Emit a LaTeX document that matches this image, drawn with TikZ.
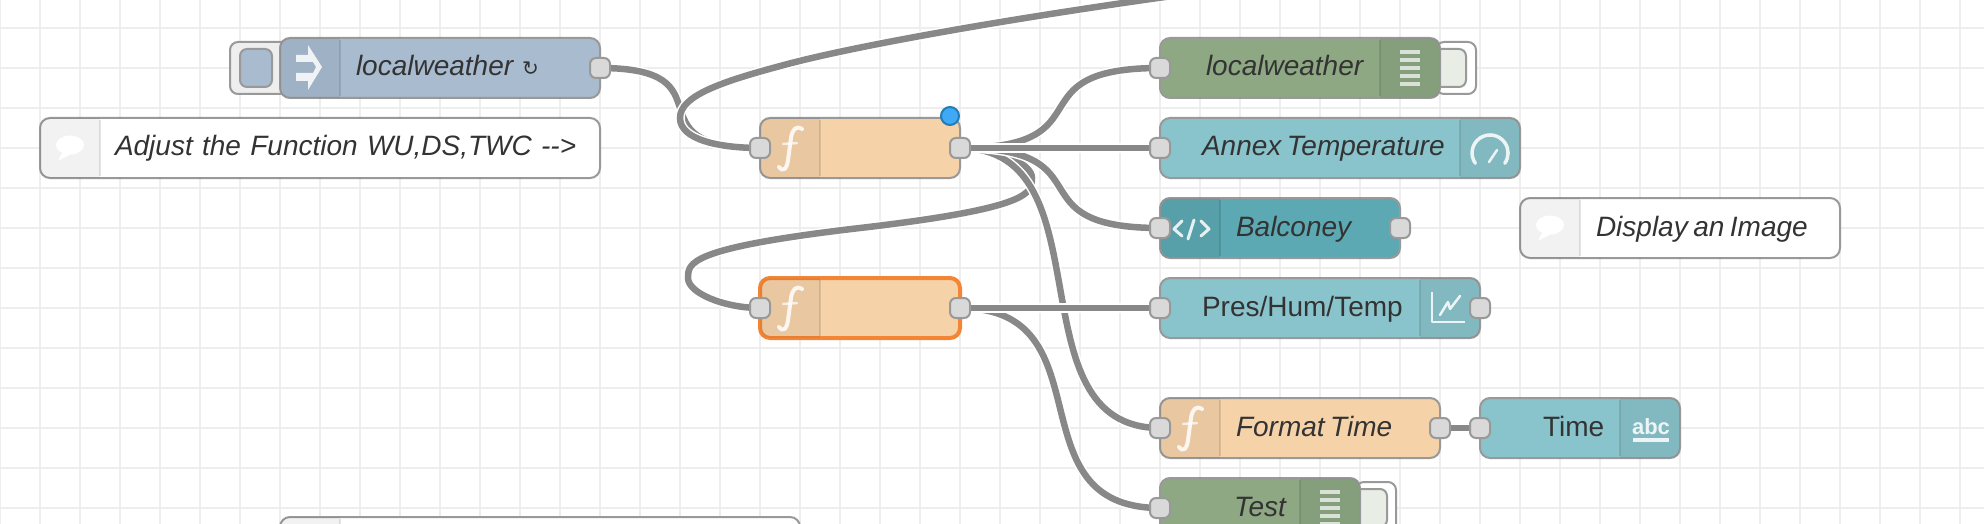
\documentclass[tikz,border=0pt]{standalone}
\usepackage{fontspec}
\setmainfont{Liberation Sans}
\newfontfamily\symfont{DejaVu Sans}
\usepackage{xcolor}
\usetikzlibrary{positioning}
\definecolor{FlowGrid}{HTML}{EEEEEE}
\definecolor{FlowWire}{HTML}{888888}
\definecolor{FlowEdge}{HTML}{999999}
\definecolor{FlowText}{HTML}{333333}
\definecolor{FlowPort}{HTML}{D9D9D9}
\definecolor{FlowInject}{HTML}{A8BBCF}
\definecolor{FlowFunc}{HTML}{F6D2A9}
\definecolor{FlowDebug}{HTML}{8DA883}
\definecolor{FlowDash}{HTML}{89C3CB}
\definecolor{FlowTemplate}{HTML}{5CA9B3}
\definecolor{FlowPick}{HTML}{F28636}
\definecolor{FlowDot}{HTML}{3FA9F5}
\definecolor{FlowDotEdge}{HTML}{1F7DB8}
\pgfdeclarelayer{canvas}
\pgfdeclarelayer{wires}
\pgfsetlayers{canvas,wires,main}
\newcommand{\flowfont}{\fontsize{28}{32}\selectfont}
\newcommand{\lefttab}[1]{\begin{scope}\clip[rounded corners=10pt] (#1.north west) rectangle (#1.south east);
 \fill[black,opacity=.05] (#1.north west) rectangle ([xshift=60pt]#1.south west);
 \end{scope}
 \draw[tabrule] ([xshift=60pt,yshift=-2pt]#1.north west) -- ([xshift=60pt,yshift=2pt]#1.south west);}
\newcommand{\righttab}[1]{\begin{scope}\clip[rounded corners=10pt] (#1.north west) rectangle (#1.south east);
 \fill[black,opacity=.05] ([xshift=-60pt]#1.north east) rectangle (#1.south east);
 \end{scope}
 \draw[tabrule] ([xshift=-60pt,yshift=-2pt]#1.north east) -- ([xshift=-60pt,yshift=2pt]#1.south east);}
\newcommand{\funcicon}[1]{\begin{scope}[shift={(#1.west)}]
 \draw[iconline,line width=4pt] (42,-19) .. controls (36,-23) and (32,-18) .. (31,-10) -- (28,12) .. controls (27,22) and (22,24) .. (19,19);
 \draw[iconline,line width=2.5pt,opacity=.7] (23,-4) -- (37,-5);
 \end{scope}}
\newcommand{\noteicon}[1]{\begin{scope}[shift={(#1.west)}]
 \fill[white] (30,-3) ellipse (14 and 9.5);
 \fill[white] (23,3) -- (18,13) -- (33,5) -- cycle;
 \end{scope}}
\newcommand{\debugicon}[1]{\begin{scope}[shift={(#1.east)}]
 \foreach \by in {-16,-8,0,8,16}
  \draw[iconline,line cap=butt,line width=4pt,opacity=.7] (-40,\by) -- (-20,\by);
 \end{scope}}

\begin{document}
\begin{tikzpicture}[x=1pt,y=-1pt,
 flowbox/.style 2 args={draw=FlowEdge,line width=2pt,rounded corners=10pt,inner sep=0pt,outer sep=0pt,minimum height=60pt,minimum width=#1pt,text width=#1pt,text height=23pt,text depth=7pt,align=flush left,text=FlowText,font=\flowfont\itshape,execute at begin node={\spaceskip=5.5pt\relax\hspace*{#2pt}}},
 plainfont/.style={font=\flowfont},
 port/.style={draw=FlowEdge,line width=2pt,fill=FlowPort,rounded corners=6pt,inner sep=0pt,outer sep=0pt,minimum size=20pt},
 buttonback/.style={draw=FlowEdge,line width=2pt,rounded corners=8pt,inner sep=0pt,minimum height=52pt},
 buttonface/.style={draw=FlowEdge,line width=2pt,rounded corners=7pt,inner sep=0pt,minimum height=38pt,minimum width=32pt},
 wire/.style={draw=FlowWire,line width=6.5pt,preaction={draw=white,line width=9.5pt}},
 tabrule/.style={draw=black,opacity=.1,line width=2pt},
 iconline/.style={draw=white,line width=3pt,line cap=round,line join=round,opacity=.85},
 gridline/.style={draw=FlowGrid,line width=2pt}]
\useasboundingbox (0,0) rectangle (1984,524);
\begin{pgfonlayer}{canvas}
\fill[white] (0,0) rectangle (1984,524);
\foreach \gx in {0,40,...,1960} \draw[gridline] (\gx,0) -- (\gx,524);
\foreach \gy in {28,68,...,508} \draw[gridline] (0,\gy) -- (1984,\gy);
\end{pgfonlayer}

\node[buttonback,fill=FlowGrid,minimum width=60pt] (injectBack) at (260,68) {};
\node[buttonface,fill=FlowInject] (injectFace) at (256,68) {};
\node[buttonback,fill=white,minimum width=40pt] (debugBack) at (1456,68) {};
\node[buttonface,fill=FlowDebug!20] (debugFace) at (1450,68) {};
\node[buttonback,fill=white,minimum width=40pt] (testBack) at (1376,508) {};
\node[buttonface,fill=FlowDebug!20] (testFace) at (1371,508) {};

\node[flowbox={320}{76},fill=FlowInject] (inject) at (440,68) {localweather\hspace{9pt}{\symfont\upshape\fontsize{20}{24}\selectfont ↻}};
\node[flowbox={560}{75},fill=white] (noteAdjust) at (320,148) {\spaceskip=9.3pt\relax Adjust the Function WU,DS,TWC -{}->};
\node[flowbox={520}{0},fill=white] (noteBlank) at (540,547) {};
\node[flowbox={200}{0},fill=FlowFunc] (funcA) at (860,148) {};
\node[flowbox={200}{0},fill=FlowFunc,draw=FlowPick,line width=4pt,below=100pt of funcA] (funcB) {};
\node[flowbox={360}{42},fill=FlowDash,right=200pt of funcA] (annex) {Annex Temperature};
\node[flowbox={280}{46},fill=FlowDebug,above=20pt of annex.north west,anchor=south west] (debugLocal) {localweather};
\node[flowbox={240}{76},fill=FlowTemplate,below=20pt of annex.south west,anchor=north west] (balconey) {Balconey};
\node[flowbox={320}{76},fill=white,right=120pt of balconey] (noteImage) {Display an Image};
\node[flowbox={320}{42},plainfont,fill=FlowDash,right=200pt of funcB] (chart) {Pres/Hum/Temp};
\node[flowbox={280}{76},fill=FlowFunc,below=60pt of chart.south west,anchor=north west] (formatTime) {Format Time};
\node[flowbox={200}{63},plainfont,fill=FlowDash,right=40pt of formatTime] (timeText) {Time};
\node[flowbox={200}{74},fill=FlowDebug,below=20pt of formatTime.south west,anchor=north west] (debugTest) {Test};

\righttab{debugLocal} \righttab{annex} \righttab{chart} \righttab{timeText} \righttab{debugTest}
\lefttab{inject} \lefttab{funcA} \lefttab{funcB} \lefttab{balconey} \lefttab{formatTime}
\lefttab{noteAdjust} \lefttab{noteImage} \lefttab{noteBlank}

\funcicon{funcA} \funcicon{funcB} \funcicon{formatTime}
\noteicon{noteAdjust} \noteicon{noteImage}
\debugicon{debugLocal} \debugicon{debugTest}
\begin{scope}[shift={(inject.west)}]
\fill[white,opacity=.85] (16,-13) -- (28,-13) -- (28,-23) -- (42,-1) -- (28,22) -- (28,13) -- (16,13) -- (16,5) -- (33,5) -- (36,-1) -- (33,-6) -- (16,-6) -- cycle;
\end{scope}
\begin{scope}[shift={(balconey.west)}]
\draw[iconline] (22,-7) -- (14,1) -- (22,8);
\draw[iconline] (28,11) -- (34,-8);
\draw[iconline] (41,-7) -- (49,1) -- (41,8);
\end{scope}
\begin{scope}[shift={(annex.east)}]
\draw[iconline,line width=3.5pt] (-44.7,15.3) arc (145:395:18);
\draw[iconline,line width=2.5pt] (-31,14) -- (-23,2);
\end{scope}
\begin{scope}[shift={(chart.east)}]
\draw[iconline,line cap=butt,line width=2.5pt] (-48,-16) -- (-48,14) -- (-15,14);
\draw[iconline,line width=2.5pt] (-40,7) -- (-32,-6) -- (-30,1) -- (-20,-12);
\end{scope}
\begin{scope}[shift={(timeText.east)}]
\node[anchor=base,inner sep=0pt,text=white,font=\fontsize{22}{24}\selectfont\bfseries,opacity=.85] (abcIcon) at (-29,6) {abc};
\draw[iconline,line cap=butt,line width=4pt] (-47,12) -- (-11,12);
\end{scope}

\node[port] (injectOut) at (inject.east) {};
\node[port] (funcAIn) at (funcA.west) {};
\node[port] (funcAOut) at (funcA.east) {};
\node[port] (funcBIn) at (funcB.west) {};
\node[port] (funcBOut) at (funcB.east) {};
\node[port] (debugLocalIn) at (debugLocal.west) {};
\node[port] (annexIn) at (annex.west) {};
\node[port] (balconeyIn) at (balconey.west) {};
\node[port] (balconeyOut) at (balconey.east) {};
\node[port] (chartIn) at (chart.west) {};
\node[port] (chartOut) at (chart.east) {};
\node[port] (formatIn) at (formatTime.west) {};
\node[port] (formatOut) at (formatTime.east) {};
\node[port] (timeIn) at (timeText.west) {};
\node[port] (testIn) at (debugTest.west) {};
\node[circle,draw=FlowDotEdge,line width=2pt,fill=FlowDot,inner sep=0pt,minimum size=18pt] (funcAFlag) at (950,116) {};
\coordinate (offTop) at (1172,-4);

\begin{pgfonlayer}{wires}
\draw[wire] (funcAOut.center) .. controls (996,148) and (1032,163) .. (1032,178) .. controls (1032,193) and (1032,208) .. (860,228) .. controls (688,248) and (688,263) .. (688,278) .. controls (688,293) and (724,308) .. (funcBIn.center);
\draw[wire] (injectOut.center) .. controls +(134,0) and +(-134,0) .. (funcAIn.center);
\draw[wire] (offTop) .. controls (1000,20) and (850,47) .. (784,65) .. controls (720,82) and (680,96) .. (680,118) .. controls (680,140) and (720,148) .. (funcAIn.center);
\draw[wire] (funcAOut.center) .. controls +(150,0) and +(-150,0) .. (formatIn.center);
\draw[wire] (funcAOut.center) .. controls +(150,0) and +(-150,0) .. (balconeyIn.center);
\draw[wire] (funcAOut.center) .. controls +(150,0) and +(-150,0) .. (debugLocalIn.center);
\draw[wire] (funcAOut.center) -- (annexIn.center);
\draw[wire] (funcBOut.center) .. controls +(150,0) and +(-150,0) .. (testIn.center);
\draw[wire] (funcBOut.center) -- (chartIn.center);
\draw[wire] (formatOut.center) -- (timeIn.center);
\end{pgfonlayer}
\end{tikzpicture}
\end{document}
